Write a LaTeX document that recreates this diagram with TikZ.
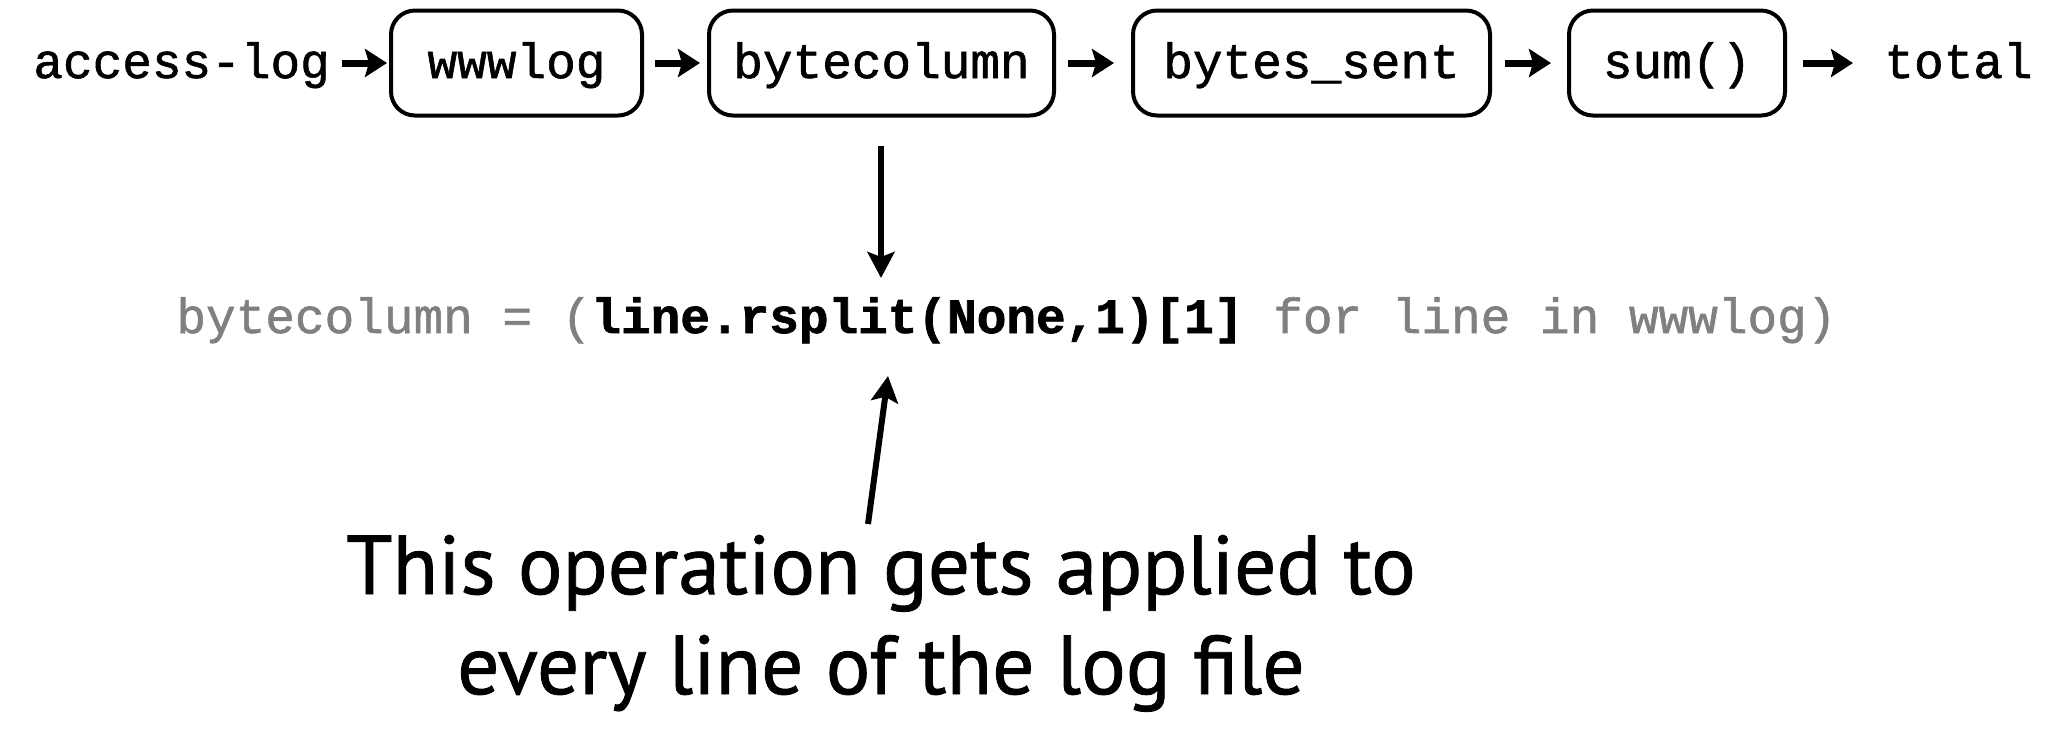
\documentclass[tikz,border=0pt]{standalone}
\usepackage{fontspec}
\setmonofont[FakeBold=1.2, BoldFeatures={FakeBold=1.5}]{Liberation Mono}
\newfontfamily\notefont[FakeBold=1]{PT Sans}
\usetikzlibrary{arrows.meta}
\definecolor{codegray}{HTML}{808080}
\begin{document}
\begin{tikzpicture}[x=0.5pt,y=-0.5pt,
  mono/.style={font=\fontsize{24.7}{28}\selectfont\ttfamily, inner sep=0pt, text height=19pt, text depth=4pt},
  stage/.style={mono, draw, line width=2pt, rounded corners=12pt, minimum height=52.5pt},
  flow/.style={line width=3.5pt, -{Stealth[length=11pt,width=14pt,inset=2pt]}},
  pointer/.style={line width=3pt, -{Stealth[length=13pt,width=13.5pt,inset=2.5pt]}},
  note/.style={font=\fontsize{41.7}{50}\selectfont\notefont, align=center, inner sep=0pt}
]
\useasboundingbox (0,0) rectangle (2046,736);
\node[mono, anchor=west] (src) at (33,63) {access-log};
\node[stage, minimum width=125.5pt] (www) at (516.5,63) {wwwlog};
\node[stage, minimum width=172.5pt] (byt) at (881.5,63) {bytecolumn};
\node[stage, minimum width=178.5pt] (sent) at (1311.5,63) {bytes\_sent};
\node[stage, minimum width=108pt] (sum) at (1677,63) {sum()};
\node[mono, anchor=west] (tot) at (1884,63) {total};
\draw[flow, shorten <=6pt, shorten >=1pt] (src) -- (www);
\draw[flow, shorten <=5.5pt, shorten >=3.5pt] (www) -- (byt);
\draw[flow, shorten <=6pt, shorten >=8.5pt] (byt) -- (sent);
\draw[flow, shorten <=6.5pt, shorten >=8pt] (sent) -- (sum);
\draw[flow, shorten <=8pt, shorten >=15.5pt] (sum) -- (tot);
\node[mono, anchor=base west, text height=, text depth=] (code) at (176,333)
  {\textcolor{codegray}{bytecolumn = (}\textbf{line.rsplit(None,1)[1]}\textcolor{codegray}{\ for line in wwwlog)}};
\coordinate (vtop) at (881,146);
\coordinate (vend) at (881,278);
\draw[pointer] (vtop) -- (vend);
\coordinate (ubot) at (868,524);
\coordinate (uend) at (888,376);
\draw[pointer] (ubot) -- (uend);
\node[note, anchor=base] (txt) at (881,694) {This operation gets applied to\\every line of the log file};
\end{tikzpicture}
\end{document}
